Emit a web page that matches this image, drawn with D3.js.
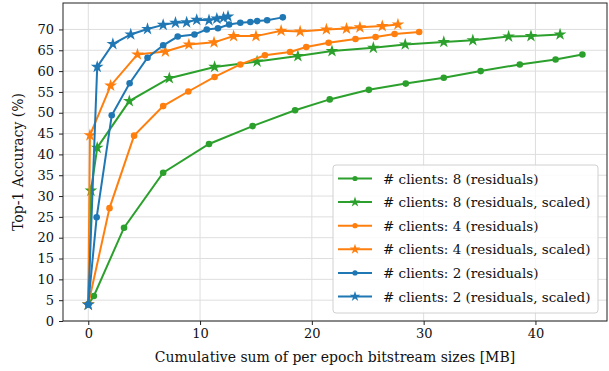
<!DOCTYPE html>
<html>
<head>
<meta charset="utf-8">
<script src="https://cdn.jsdelivr.net/npm/d3@7"></script>
<style>
  body { margin: 0; background: #fff; }
  svg text { font-family: "DejaVu Serif", "Liberation Serif", serif; fill: #111; }
</style>
</head>
<body>
<div id="chart"></div>
<script>
// Top-1 accuracy vs cumulative bitstream size

const COLORS = { 8: '#2ca02c', 4: '#ff7f0e', 2: '#1f77b4' };

// # clients: 8
const c8ResX = [0, 0.5, 3.2, 6.7, 10.8, 14.7, 18.5, 21.6, 25.1, 28.4, 31.8, 35.1, 38.6, 41.8, 44.2];
const c8ResY = [4.0, 6.0, 22.4, 35.6, 42.5, 46.8, 50.6, 53.2, 55.5, 57.0, 58.4, 60.0, 61.6, 62.8, 64.0];
const c8ScX = [0, 0.24, 0.8, 3.67, 7.25, 11.3, 15.1, 18.75, 21.8, 25.5, 28.35, 31.8, 34.4, 37.6, 39.6, 42.2];
const c8ScY = [4.0, 31.3, 41.6, 52.8, 58.3, 61.0, 62.3, 63.6, 64.8, 65.6, 66.4, 67.0, 67.4, 68.3, 68.4, 68.8];

// # clients: 4
const c4ResX = [0, 1.9, 4.1, 6.7, 8.95, 11.3, 13.6, 15.8, 18.05, 19.5, 21.5, 23.9, 25.7, 27.4, 29.6];
const c4ResY = [4.0, 27.1, 44.5, 51.6, 55.1, 58.6, 61.6, 63.8, 64.6, 65.8, 66.8, 67.7, 68.2, 68.9, 69.4];
const c4ScX = [0, 0.15, 2.0, 4.4, 6.9, 9.0, 11.25, 13.0, 15.0, 17.25, 18.95, 21.3, 23.1, 24.3, 26.3, 27.7];
const c4ScY = [4.0, 44.6, 56.5, 64.0, 64.7, 66.4, 66.9, 68.4, 68.4, 69.7, 69.5, 70.0, 70.2, 70.5, 70.8, 71.2];

// # clients: 2
const c2ResX = [0, 0.75, 2.1, 3.7, 5.3, 6.7, 8.0, 9.5, 10.6, 11.6, 12.6, 13.6, 14.5, 15.1, 16.0, 17.4];
const c2ResY = [4.0, 24.9, 49.4, 57.1, 63.2, 66.2, 68.3, 68.8, 70.0, 70.3, 71.2, 71.6, 71.8, 72.0, 72.2, 72.9];
const c2ScX = [0, 0.8, 2.2, 3.8, 5.3, 6.7, 7.8, 8.8, 9.7, 10.8, 11.5, 12.1, 12.5];
const c2ScY = [3.9, 61.0, 66.5, 68.8, 70.1, 71.1, 71.6, 71.7, 72.3, 72.2, 72.6, 72.8, 73.1];

const xTicks = [0, 10, 20, 30, 40];
const yTicks = [0, 5, 10, 15, 20, 25, 30, 35, 40, 45, 50, 55, 60, 65, 70];

const series = [
    { label: '# clients: 8 (residuals)', x: c8ResX, y: c8ResY, color: COLORS[8], marker: 'circle' },
    { label: '# clients: 8 (residuals, scaled)', x: c8ScX, y: c8ScY, color: COLORS[8], marker: 'star' },
    { label: '# clients: 4 (residuals)', x: c4ResX, y: c4ResY, color: COLORS[4], marker: 'circle' },
    { label: '# clients: 4 (residuals, scaled)', x: c4ScX, y: c4ScY, color: COLORS[4], marker: 'star' },
    { label: '# clients: 2 (residuals)', x: c2ResX, y: c2ResY, color: COLORS[2], marker: 'circle' },
    { label: '# clients: 2 (residuals, scaled)', x: c2ScX, y: c2ScY, color: COLORS[2], marker: 'star' },
];

const width = 609, height = 371;
const margin = { left: 63, right: 2, top: 3, bottom: 50 };

const svg = d3.select('#chart').append('svg')
    .attr('width', width)
    .attr('height', height);

const x = d3.scaleLinear().domain([-2.26, 46.4]).range([margin.left, width - margin.right]);
const y = d3.scaleLinear().domain([0, 76.35]).range([height - margin.bottom, margin.top]);

// Grid
const grid = svg.append('g');
grid.selectAll('line.gx')
    .data(xTicks)
    .join('line')
    .attr('x1', d => x(d)).attr('x2', d => x(d))
    .attr('y1', y.range()[0]).attr('y2', y.range()[1])
    .attr('stroke', '#dedede').attr('stroke-width', 1);
grid.selectAll('line.gy')
    .data(yTicks)
    .join('line')
    .attr('y1', d => y(d)).attr('y2', d => y(d))
    .attr('x1', x.range()[0]).attr('x2', x.range()[1])
    .attr('stroke', '#dedede').attr('stroke-width', 1);

// Series
const starPath = d3.symbol().type(d3.symbolStar).size(50)();
const line = d3.line();

series.forEach(s => {
    const pts = s.x.map((v, i) => [x(v), y(s.y[i])]);
    const g = svg.append('g');
    g.append('path')
        .attr('d', line(pts))
        .attr('fill', 'none')
        .attr('stroke', s.color)
        .attr('stroke-width', 2);
    if (s.marker === 'star') {
        g.selectAll('path.m')
            .data(pts)
            .join('path')
            .attr('class', 'm')
            .attr('d', starPath)
            .attr('transform', d => `translate(${d[0]},${d[1]})`)
            .attr('fill', s.color);
    } else {
        g.selectAll('circle')
            .data(pts)
            .join('circle')
            .attr('cx', d => d[0])
            .attr('cy', d => d[1])
            .attr('r', 3.3)
            .attr('fill', s.color);
    }
});

// Axes
const xAxis = svg.append('g')
    .attr('transform', `translate(0,${height - margin.bottom})`)
    .call(d3.axisBottom(x).tickValues(xTicks).tickSize(4).tickPadding(4));
const yAxis = svg.append('g')
    .attr('transform', `translate(${margin.left},0)`)
    .call(d3.axisLeft(y).tickValues(yTicks).tickSize(4).tickPadding(5));
[xAxis, yAxis].forEach(a => {
    a.select('.domain').remove();
    a.selectAll('text').attr('font-size', '13px').attr('fill', '#111');
    a.selectAll('line').attr('stroke', '#222');
});

// Frame
svg.append('rect')
    .attr('x', margin.left).attr('y', margin.top)
    .attr('width', width - margin.left - margin.right)
    .attr('height', height - margin.top - margin.bottom)
    .attr('fill', 'none')
    .attr('stroke', '#222')
    .attr('stroke-width', 1);

// Axis labels
svg.append('text')
    .attr('x', (margin.left + width - margin.right) / 2)
    .attr('y', 362)
    .attr('text-anchor', 'middle')
    .attr('font-size', '14px')
    .text('Cumulative sum of per epoch bitstream sizes [MB]');
svg.append('text')
    .attr('transform', `translate(23,${(margin.top + height - margin.bottom) / 2}) rotate(-90)`)
    .attr('text-anchor', 'middle')
    .attr('font-size', '14px')
    .text('Top-1 Accuracy (%)');

// Legend
const legend = svg.append('g').attr('transform', 'translate(333,165)');
legend.append('rect')
    .attr('width', 265).attr('height', 148)
    .attr('rx', 3)
    .attr('fill', 'rgba(255,255,255,0.85)')
    .attr('stroke', '#d0d0d0');
const legStar = d3.symbol().type(d3.symbolStar).size(34)();
series.forEach((s, i) => {
    const row = legend.append('g').attr('transform', `translate(0,${13.5 + i * 23.6})`);
    row.append('line')
        .attr('x1', 5).attr('x2', 39)
        .attr('stroke', s.color).attr('stroke-width', 2);
    if (s.marker === 'star') {
        row.append('path').attr('d', legStar).attr('transform', 'translate(22,0)').attr('fill', s.color);
    } else {
        row.append('circle').attr('cx', 22).attr('r', 2.6).attr('fill', s.color);
    }
    row.append('text')
        .attr('x', 50).attr('y', 5)
        .attr('font-size', '13.5px')
        .text(s.label);
});
</script>
</body>
</html>
